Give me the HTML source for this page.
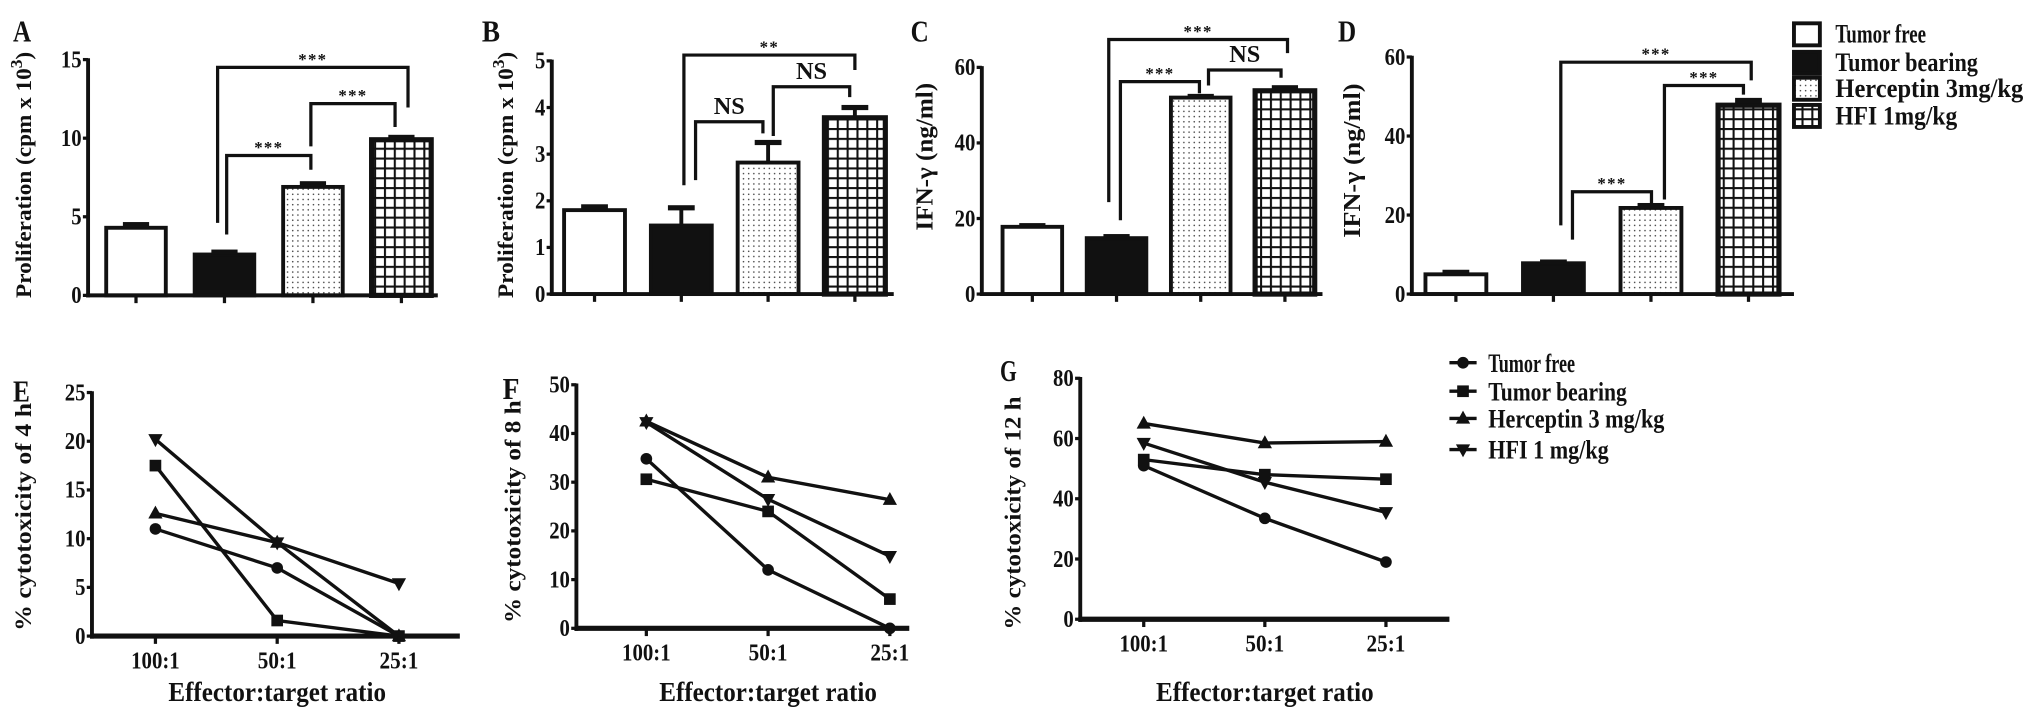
<!DOCTYPE html>
<html><head><meta charset="utf-8">
<style>
html,body{margin:0;padding:0;background:#fff;}
svg{display:block;}
text{font-family:"Liberation Serif","DejaVu Serif",serif;font-weight:bold;fill:#111;}
</style></head>
<body>
<svg id="fig" xmlns="http://www.w3.org/2000/svg" width="2031" height="719" viewBox="0 0 1568 555" preserveAspectRatio="none">
<defs>
<pattern id="dots" width="4" height="4" patternUnits="userSpaceOnUse"><rect width="4" height="4" fill="#fff"/><circle cx="2" cy="2" r="0.6" fill="#444"/></pattern>
<pattern id="grid" width="7.6" height="7.6" patternUnits="userSpaceOnUse"><rect width="7.6" height="7.6" fill="#fff"/><path d="M0 0H7.6M0 0V7.6" stroke="#111" stroke-width="3.2"/></pattern>
</defs>
</svg>
<script>
// ---------- data ----------
const groups = ['Tumor free','Tumor bearing','Herceptin 3mg/kg','HFI 1mg/kg'];
const aValues = [4.3, 2.6, 6.9, 9.9];
const aErr = [0.2, 0.15, 0.2, 0.15];
const aTicks = [0, 5, 10, 15];
const bValues = [1.8, 1.47, 2.82, 3.78];
const bErr = [0.07, 0.38, 0.43, 0.22];
const bTicks = [0, 1, 2, 3, 4, 5];
const cValues = [17.8, 14.8, 52, 53.8];
const cErr = [0.3, 0.4, 0.3, 0.8];
const cTicks = [0, 20, 40, 60];
const dValues = [5, 7.8, 21.8, 47.8];
const dErr = [0.5, 0.3, 0.6, 1.2];
const dTicks = [0, 20, 40, 60];

const ratios = ['100:1', '50:1', '25:1'];
const eFree = [11, 7, 0];
const eBearing = [17.5, 1.6, 0];
const eHer = [12.6, 9.6, 0];
const eHfi = [20.2, 9.6, 5.4];
const eTicks = [0, 5, 10, 15, 20, 25];
const fFree = [34.8, 12, 0];
const fBearing = [30.6, 24, 6];
const fHer = [42.5, 31, 26.4];
const fHfi = [42.3, 26.5, 14.8];
const fTicks = [0, 10, 20, 30, 40, 50];
const gFree = [51, 33.5, 19];
const gBearing = [53, 48, 46.5];
const gHer = [65, 58.5, 59];
const gHfi = [58.5, 45.5, 35.5];
const gTicks = [0, 20, 40, 60, 80];
const lineSeriesNames = ['Tumor free', 'Tumor bearing', 'Herceptin 3 mg/kg', 'HFI 1 mg/kg'];

// ---------- helpers ----------
const NS = 'http://www.w3.org/2000/svg';
const svg = document.getElementById('fig');
function mk(tag, attrs, parent) {
  const e = document.createElementNS(NS, tag);
  for (const k in attrs) e.setAttribute(k, attrs[k]);
  (parent || svg).appendChild(e);
  return e;
}
function line(x1, y1, x2, y2, w, name) {
  const e = mk('line', {x1, y1, x2, y2, stroke: '#111', 'stroke-width': w || 3});
  
  
  return e;
}
function txt(x, y, s, size, anchor, name, extra) {
  const e = mk('text', Object.assign({x, y, 'font-size': size, 'text-anchor': anchor || 'middle'}, extra || {}));
  e.textContent = s;
  
  
  return e;
}
function ctxt(x, y, s, size, anchor, name, perChar) {
  const e = txt(x, y, s, size, anchor, name);
  e.setAttribute('textLength', s.length * perChar);
  e.setAttribute('lengthAdjust', 'spacingAndGlyphs');
  return e;
}
function vtitle(cx, cy, s, size, len, name, sup) {
  const e = mk('text', {x: 0, y: 0, 'font-size': size, 'text-anchor': 'middle', transform: `translate(${cx},${cy}) rotate(-90)`});
  
  
  if (sup) {
    e.appendChild(document.createTextNode(s));
    const t = mk('tspan', {dy: -7, 'font-size': size * 0.75}, e); t.textContent = sup;
    const t2 = mk('tspan', {dy: 7}, e); t2.textContent = ')';
  } else e.textContent = s;
  if (len) { e.setAttribute('textLength', len); e.setAttribute('lengthAdjust', 'spacingAndGlyphs'); }
  return e;
}

// ---------- bar charts ----------
const fills = ['#fff', '#111', 'url(#dots)', 'url(#grid)'];
function barChart(cfg, values, errs, ticks, ymax) {
  const y = v => cfg.y0 - (v / ymax) * (cfg.y0 - cfg.yTop);
  const x = i => cfg.start + i * cfg.step;
  values.forEach((v, i) => {
    const r = mk('rect', {x: x(i) - cfg.bw / 2, y: y(v), width: cfg.bw, height: cfg.y0 - y(v), fill: fills[i], stroke: '#111', 'stroke-width': i === 3 ? 4 : 3});
    
    
    const top = y(v + errs[i]);
    line(x(i), y(v), x(i), top, 3, cfg.id + '-errorbar-' + i);
    const cap = mk('rect', {x: x(i) - cfg.bw * 0.22, y: top - 2, width: cfg.bw * 0.44, height: 4, fill: '#111'});
    
    
    line(x(i), cfg.y0, x(i), cfg.y0 + 6, 2.5, cfg.id + '-x-tick');
  });
  line(cfg.axisX, cfg.yTop - 1, cfg.axisX, cfg.y0 + 1.5, 3, cfg.id + '-y-axis');
  line(cfg.axisX - 1.5, cfg.y0, cfg.xEnd, cfg.y0, 3, cfg.id + '-x-axis');
  ticks.forEach(t => {
    line(cfg.axisX - 4, y(t), cfg.axisX, y(t), 2.5, cfg.id + '-y-tick');
    ctxt(cfg.axisX - 5, y(t) + 6, String(t), 19, 'end', cfg.id + '-y-tick-label', 8);
  });
  ctxt(cfg.lx, cfg.ly, cfg.label, 24, 'start', cfg.id + '-panel-label', 14);
}
function bracket(x1, x2, yb, l1, l2, label, name) {
  const p = mk('path', {d: `M${x1} ${l1}V${yb}H${x2}V${l2}`, fill: 'none', stroke: '#111', 'stroke-width': 2.5});
  
  
  if (label === 'NS') ctxt((x1 + x2) / 2, yb - 6, 'NS', 19, 'middle', name + '-label', 12);
  else txt((x1 + x2) / 2, yb - 2, label, 13, 'middle', name + '-label', {'letter-spacing': '1'});
}

barChart({id: 'a', axisX: 68, y0: 228, yTop: 46, start: 105, step: 68.3, bw: 46, xEnd: 338, lx: 10, ly: 32, label: 'A'}, aValues, aErr, aTicks, 15);
barChart({id: 'b', axisX: 426, y0: 227, yTop: 47, start: 459, step: 67, bw: 47, xEnd: 690, lx: 372, ly: 32, label: 'B'}, bValues, bErr, bTicks, 5);
barChart({id: 'c', axisX: 758, y0: 227, yTop: 52, start: 797, step: 65, bw: 46, xEnd: 1021, lx: 703, ly: 32, label: 'C'}, cValues, cErr, cTicks, 60);
barChart({id: 'd', axisX: 1090, y0: 227, yTop: 44, start: 1124, step: 75.3, bw: 47, xEnd: 1385, lx: 1033, ly: 32, label: 'D'}, dValues, dErr, dTicks, 60);

vtitle(24, 135, 'Proliferation (cpm x 10', 17, 190, 'a-y-axis-title', '3');
vtitle(396, 135, 'Proliferation (cpm x 10', 17, 190, 'b-y-axis-title', '3');
vtitle(720, 121, 'IFN-γ (ng/ml)', 19, 114, 'c-y-axis-title');
vtitle(1050, 124, 'IFN-γ  (ng/ml)', 19, 119, 'd-y-axis-title');

bracket(168, 315, 52, 172, 83, '***', 'a-bracket-1');
bracket(240, 305, 80, 113, 98, '***', 'a-bracket-2');
bracket(175, 240, 120, 181, 131, '***', 'a-bracket-3');
bracket(528, 660, 42.5, 143, 54, '**', 'b-bracket-1');
bracket(537, 589, 94, 139, 103, 'NS', 'b-bracket-2');
bracket(597, 656, 67, 105, 75, 'NS', 'b-bracket-3');
bracket(856, 994, 30.5, 156, 41, '***', 'c-bracket-1');
bracket(865, 926, 63, 170, 72, '***', 'c-bracket-2');
bracket(933, 989, 54, 66, 60, 'NS', 'c-bracket-3');
bracket(1205, 1352, 48, 174, 62, '***', 'd-bracket-1');
bracket(1285, 1346, 66, 154, 73, '***', 'd-bracket-2');
bracket(1214, 1275, 148, 185, 157, '***', 'd-bracket-3');

// bar legend
groups.forEach((g, i) => {
  const yy = [26, 48, 68, 89][i];
  const r = mk('rect', {x: 1385, y: yy - 8, width: 20, height: 17, fill: fills[i], stroke: '#111', 'stroke-width': 3});
  
  
  const t = txt(1417, yy + 7, g, 20, 'start', 'bar-legend-entry-' + i);
  t.setAttribute('textLength', [70, 110, 145, 94][i]);
  t.setAttribute('lengthAdjust', 'spacingAndGlyphs');
});

// ---------- line charts ----------
function marker(kind, cx, cy, name) {
  let e;
  if (kind === 0) e = mk('circle', {cx, cy, r: 4.5, fill: '#111'});
  else if (kind === 1) e = mk('rect', {x: cx - 4.5, y: cy - 4.5, width: 9, height: 9, fill: '#111'});
  else if (kind === 2) e = mk('path', {d: `M${cx} ${cy - 6}L${cx + 5.5} ${cy + 4}L${cx - 5.5} ${cy + 4}Z`, fill: '#111'});
  else e = mk('path', {d: `M${cx} ${cy + 6}L${cx + 5.5} ${cy - 4}L${cx - 5.5} ${cy - 4}Z`, fill: '#111'});
  
  
}
function lineChart(cfg, series, ticks, ymax) {
  const y = v => cfg.y0 - (v / ymax) * (cfg.y0 - cfg.yTop);
  const x = i => cfg.start + i * cfg.step;
  series.forEach((s, k) => {
    const pl = mk('polyline', {points: s.map((v, i) => x(i) + ',' + y(v)).join(' '), fill: 'none', stroke: '#111', 'stroke-width': 2.6});
    
    
    s.forEach((v, i) => marker(k, x(i), y(v), cfg.id + '-point'));
  });
  line(cfg.axisX, cfg.yTop - 1, cfg.axisX, cfg.y0 + 2, 3, cfg.id + '-y-axis');
  line(cfg.axisX - 1.5, cfg.y0, cfg.xEnd, cfg.y0, 4, cfg.id + '-x-axis');
  ticks.forEach(t => {
    line(cfg.axisX - 4, y(t), cfg.axisX, y(t), 2.5, cfg.id + '-y-tick');
    ctxt(cfg.axisX - 5, y(t) + 6, String(t), 19, 'end', cfg.id + '-y-tick-label', 8);
  });
  ratios.forEach((r, i) => {
    line(x(i), cfg.y0, x(i), cfg.y0 + 6, 2.5, cfg.id + '-x-tick');
    ctxt(x(i), cfg.y0 + 25, r, 19, 'middle', cfg.id + '-x-tick-label', 7.5);
  });
  const xt = txt(x(1), 541, 'Effector:target ratio', 21, 'middle', cfg.id + '-x-axis-title');
  xt.setAttribute('textLength', 168);
  xt.setAttribute('lengthAdjust', 'spacingAndGlyphs');
  ctxt(cfg.lx, cfg.ly, cfg.label, 24, 'start', cfg.id + '-panel-label', 13);
}
lineChart({id: 'e', axisX: 71, y0: 491, yTop: 303, start: 120, step: 94, xEnd: 355, lx: 10, ly: 310, label: 'E'}, [eFree, eBearing, eHer, eHfi], eTicks, 25);
lineChart({id: 'f', axisX: 445, y0: 485, yTop: 297, start: 499, step: 94, xEnd: 702, lx: 388, ly: 308, label: 'F'}, [fFree, fBearing, fHer, fHfi], fTicks, 50);
lineChart({id: 'g', axisX: 834, y0: 478, yTop: 292, start: 883, step: 93.5, xEnd: 1119, lx: 772, ly: 294, label: 'G'}, [gFree, gBearing, gHer, gHfi], gTicks, 80);

vtitle(24, 399, '% cytotoxicity of 4 h', 18, 176, 'e-y-axis-title');
vtitle(402, 395, '% cytotoxicity of 8 h', 18, 172, 'f-y-axis-title');
vtitle(788, 396, '% cytotoxicity of 12 h', 18, 180, 'g-y-axis-title');

// line legend
lineSeriesNames.forEach((n, k) => {
  const yy = [280, 302, 323, 347][k];
  line(1119, yy, 1140, yy, 2.6, 'line-legend-line-' + k);
  marker(k, 1129.5, yy, 'line-legend-marker-' + k);
  const t = txt(1149, yy + 7, n, 20, 'start', 'line-legend-entry-' + k);
  t.setAttribute('textLength', [67, 107, 136, 93][k]);
  t.setAttribute('lengthAdjust', 'spacingAndGlyphs');
});
</script>
</body></html>
